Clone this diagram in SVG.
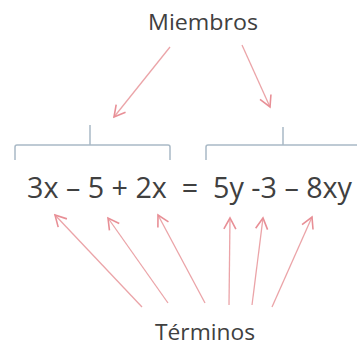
<svg xmlns="http://www.w3.org/2000/svg" width="357" height="347" viewBox="0 0 357 347">
<defs>
<style>
.lbl{font-family:"Open Sans","Liberation Sans",sans-serif;fill:#404040;white-space:pre}
.arr{stroke:#eba4a8;stroke-width:1.3;fill:none;marker-end:url(#ah)}
.br{stroke:#a9b9c6;stroke-width:1.5;fill:none}
</style>
<marker id="ah" markerWidth="14" markerHeight="14" refX="12" refY="7" orient="auto" markerUnits="userSpaceOnUse">
<path d="M1,1 L12,7 L1,13" stroke="#e88f96" stroke-width="1.6" fill="none"/>
</marker>
</defs>
<rect width="357" height="347" fill="#ffffff"/>
<g id="miembros"><text class="lbl" x="148" y="30" font-size="21" textLength="110" lengthAdjust="spacingAndGlyphs">Miembros</text></g>
<g id="ecuacion"><text class="lbl" x="27" y="198" font-size="29" textLength="325" lengthAdjust="spacingAndGlyphs" fill="#262626" xml:space="preserve">3x – 5 + 2x  =  5y -3 – 8xy</text></g>
<g id="terminos"><text class="lbl" x="155" y="340" font-size="21" textLength="100" lengthAdjust="spacingAndGlyphs">Términos</text></g>
<g id="llave-izq"><path class="br" d="M15,160 V147 Q15,145 17,145 H168 Q170,145 170,147 V160 M90,145 V125"/></g>
<g id="llave-der"><path class="br" d="M206,160 V147 Q206,145 208,145 H357 M283,145 V127"/></g>
<g id="conectores">
<line class="arr" x1="170" y1="47" x2="114" y2="117"/>
<line class="arr" x1="242" y1="45" x2="270" y2="107"/>
<line class="arr" x1="142" y1="307" x2="55" y2="215"/>
<line class="arr" x1="168" y1="303" x2="108" y2="218"/>
<line class="arr" x1="205" y1="303" x2="158" y2="215"/>
<line class="arr" x1="229" y1="305" x2="230" y2="218"/>
<line class="arr" x1="252" y1="305" x2="263" y2="218"/>
<line class="arr" x1="272" y1="307" x2="312" y2="217"/>
</g>
</svg>
